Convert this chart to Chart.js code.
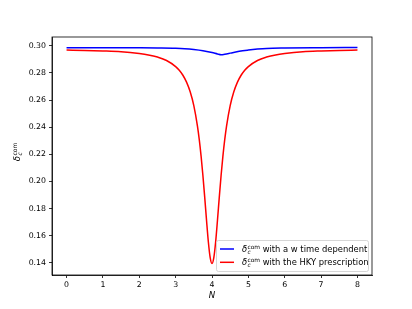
<!DOCTYPE html>
<html>
<head>
<meta charset="utf-8">
<script src="https://cdn.jsdelivr.net/npm/chart.js@4/dist/chart.umd.min.js"></script>
<style>
  html, body { margin: 0; padding: 0; background: #fff; }
  #wrap { width: 412px; height: 309px; }
</style>
</head>
<body>
<div id="wrap"><canvas id="myChart" width="412" height="309"></canvas></div>
<script>
// values
const nRed = [0, 0.5, 1, 1.5, 2, 2.25, 2.5, 2.75, 3, 3.1, 3.2, 3.3, 3.4, 3.5, 3.6, 3.65, 3.7, 3.75, 3.8, 3.85, 3.9, 3.95, 4,
  4.05, 4.1, 4.15, 4.2, 4.25, 4.3, 4.35, 4.4, 4.5, 4.6, 4.7, 4.8, 4.9, 5, 5.25, 5.5, 5.75, 6, 6.5, 7, 7.5, 8];
const deltaHKY = [0.2969, 0.2966, 0.2962, 0.2956, 0.2943, 0.2933, 0.2917, 0.2892, 0.2847, 0.2820, 0.2783, 0.2732, 0.2661,
  0.2559, 0.2408, 0.2308, 0.2187, 0.2044, 0.1882, 0.1712, 0.1553, 0.1438, 0.1395,
  0.1438, 0.1553, 0.1712, 0.1882, 0.2044, 0.2187, 0.2308, 0.2408, 0.2559, 0.2661, 0.2732, 0.2783, 0.2820, 0.2847,
  0.2892, 0.2917, 0.2933, 0.2943, 0.2956, 0.2962, 0.2966, 0.2969];

const nBlue = [0, 1, 2, 2.5, 3, 3.25, 3.5, 3.75, 4, 4.15, 4.25, 4.35, 4.5, 4.75, 5, 5.25, 5.5, 6, 7, 8];
const deltaW = [0.2986, 0.2986, 0.2985, 0.2984, 0.2982, 0.2979, 0.2973, 0.2964, 0.2950, 0.2940, 0.2934, 0.2938,
  0.2946, 0.2960, 0.2969, 0.2976, 0.2981, 0.2984, 0.2986, 0.2987];

const xTicks = [0, 1, 2, 3, 4, 5, 6, 7, 8];
const yTicks = [0.14, 0.16, 0.18, 0.20, 0.22, 0.24, 0.26, 0.28, 0.30];
const legendLabels = ['with a w time dependent', 'with the HKY prescription'];

const FONT = '"DejaVu Sans", sans-serif';

function toPoints(xs, ys) {
  return xs.map((x, i) => ({ x: x, y: ys[i] }));
}

// δ_c^com drawn as text with sub/superscript, left aligned at (x, y) baseline
function drawDelta(ctx, x, y, size) {
  ctx.textAlign = 'left';
  ctx.textBaseline = 'alphabetic';
  ctx.font = 'italic ' + size + 'px ' + FONT;
  ctx.fillText('δ', x, y);
  const w = ctx.measureText('δ').width;
  const small = size * 0.7;
  ctx.font = 'italic ' + small + 'px ' + FONT;
  ctx.fillText('c', x + w + 0.3, y + size * 0.22);
  ctx.font = small + 'px ' + FONT;
  ctx.fillText('com', x + w + 0.3, y - size * 0.38);
  return w + 0.3 + ctx.measureText('com').width;
}

const extras = {
  id: 'extras',
  afterDraw(chart) {
    const ctx = chart.ctx;
    const a = chart.chartArea;
    ctx.save();
    // frame
    ctx.strokeStyle = '#000';
    ctx.lineWidth = 0.8;
    ctx.strokeRect(a.left, a.top, a.right - a.left, a.bottom - a.top);

    // x title
    ctx.fillStyle = '#000';
    ctx.font = 'italic 8.6px ' + FONT;
    ctx.textAlign = 'center';
    ctx.textBaseline = 'middle';
    ctx.fillText('N', (a.left + a.right) / 2, 296);

    // y title
    ctx.save();
    ctx.translate(17, 152);
    ctx.rotate(-Math.PI / 2);
    ctx.font = 'italic 8.6px ' + FONT;
    const tw = 5 + 0.3 + 13;
    drawDelta(ctx, -tw / 2, 3, 8.6);
    ctx.restore();

    // legend
    const bx = 216, by = 240, bw = 152, bh = 31;
    ctx.fillStyle = 'rgba(255,255,255,0.8)';
    ctx.strokeStyle = '#cccccc';
    ctx.lineWidth = 0.8;
    ctx.beginPath();
    ctx.roundRect(bx + 0.5, by + 0.5, bw, bh, 2);
    ctx.fill();
    ctx.stroke();
    const colors = ['#0000ff', '#ff0000'];
    const rows = [249, 262.3];
    rows.forEach((ry, i) => {
      ctx.strokeStyle = colors[i];
      ctx.lineWidth = 1.5;
      ctx.beginPath();
      ctx.moveTo(220, ry);
      ctx.lineTo(234, ry);
      ctx.stroke();
      ctx.fillStyle = '#000';
      const w = drawDelta(ctx, 242, ry + 3, 8.4);
      ctx.font = '8.4px ' + FONT;
      ctx.fillText(' ' + legendLabels[i], 242 + w, ry + 3);
    });
    ctx.restore();
  }
};

const ctx = document.getElementById('myChart').getContext('2d');
const myChart = new Chart(ctx, {
  type: 'line',
  data: {
    datasets: [
      {
        label: 'w time dependent',
        data: toPoints(nBlue, deltaW),
        borderColor: '#0000ff',
        borderWidth: 1.5,
        pointRadius: 0,
        fill: false,
        cubicInterpolationMode: 'monotone'
      },
      {
        label: 'HKY prescription',
        data: toPoints(nRed, deltaHKY),
        borderColor: '#ff0000',
        borderWidth: 1.5,
        pointRadius: 0,
        fill: false,
        cubicInterpolationMode: 'monotone'
      }
    ]
  },
  options: {
    responsive: false,
    animation: false,
    devicePixelRatio: 1,
    layout: { padding: { left: 0, right: 40, top: 37, bottom: 0 } },
    plugins: {
      legend: { display: false },
      tooltip: { enabled: false }
    },
    scales: {
      x: {
        type: 'linear',
        min: -0.4,
        max: 8.4,
        afterBuildTicks: (s) => { s.ticks = xTicks.map(v => ({ value: v })); },
        afterFit: (s) => { s.height = 34; },
        grid: { drawOnChartArea: false, drawTicks: true, tickLength: 3, tickColor: '#000', tickWidth: 0.8 },
        border: { display: true, color: '#000', width: 0.8 },
        ticks: { color: '#000', font: { family: FONT, size: 7.8 }, padding: 2, maxRotation: 0 }
      },
      y: {
        type: 'linear',
        min: 0.131,
        max: 0.3065,
        afterBuildTicks: (s) => { s.ticks = yTicks.map(v => ({ value: v })); },
        afterFit: (s) => { s.width = 52; },
        grid: { drawOnChartArea: false, drawTicks: true, tickLength: 3, tickColor: '#000', tickWidth: 0.8 },
        border: { display: true, color: '#000', width: 0.8 },
        ticks: {
          color: '#000', font: { family: FONT, size: 7.8 }, padding: 3,
          callback: (v) => Number(v).toFixed(2)
        }
      }
    }
  },
  plugins: [extras]
});
</script>
</body>
</html>
